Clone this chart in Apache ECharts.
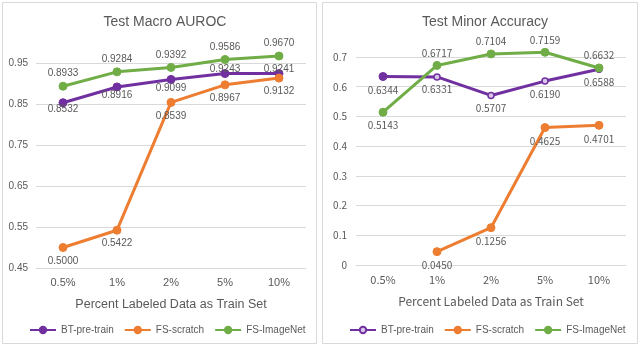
<!DOCTYPE html>
<html><head><meta charset="utf-8">
<script src="https://cdn.jsdelivr.net/npm/echarts@6/dist/echarts.min.js"></script>
<style>html,body{margin:0;padding:0;background:#fff}#c{width:640px;height:346px}</style>
</head><body><div id="c"></div>
<script>
// ---- data ----
const categories = ['0.5%', '1%', '2%', '5%', '10%'];
const seriesNames = ['BT-pre-train', 'FS-scratch', 'FS-ImageNet'];
const aurocBT = [0.8532, 0.8916, 0.9099, 0.9243, 0.9241];
const aurocScratch = [0.5000, 0.5422, 0.8539, 0.8967, 0.9132];
const aurocImageNet = [0.8933, 0.9284, 0.9392, 0.9586, 0.9670];
const accBT = [0.6344, 0.6331, 0.5707, 0.6190, 0.6588];
const accScratch = [null, 0.0450, 0.1256, 0.4625, 0.4701];
const accImageNet = [0.5143, 0.6717, 0.7104, 0.7159, 0.6632];
const aurocTicks = [0.45, 0.55, 0.65, 0.75, 0.85, 0.95];
const accTicks = [0, 0.1, 0.2, 0.3, 0.4, 0.5, 0.6, 0.7];
const titles = ['Test Macro AUROC', 'Test Minor Accuracy'];
const xTitle = 'Percent Labeled Data as Train Set';

// ---- styles / placement ----
const colors = ['#7030A0', '#ED7D31', '#70AD47'];
const txt = '#595959';
const grid = '#D9D9D9';
const fontL = 'Liberation Sans, Arial, sans-serif';
const fontR = 'Noto Sans CJK SC, Liberation Sans, sans-serif';
const ZW = '\u200b'; // distinguishes right-panel series names (invisible)
const place = {
  aBT: [['bottom', -3], ['bottom', -1], ['bottom', -1], ['top', -5], ['top', -5]],
  below: [['bottom', 4], ['bottom', 4], ['bottom', 4], ['bottom', 4], ['bottom', 4]],
  above: [['top', 3], ['top', 3], ['top', 3], ['top', 3], ['top', 3]],
  rGreen: [['bottom', 4], ['top', 3], ['top', 3], ['top', 3], ['top', 3]]
};

function mkSeries(name, vals, idx, gi, pl, font, sizes, fills) {
  return {
    name: name, type: 'line', xAxisIndex: gi, yAxisIndex: gi,
    symbol: 'circle', z: idx === 2 ? 4 : 3,
    lineStyle: { color: colors[idx], width: 3 },
    itemStyle: sizes ? { color: fills[1], borderColor: colors[idx], borderWidth: 1.5 }
                     : { color: colors[idx], borderColor: colors[idx], borderWidth: 1 },
    symbolSize: sizes ? sizes[1] : 8,
    connectNulls: false,
    data: vals.map((v, i) => {
      if (v == null) return null;
      const o = {
        value: v,
        label: { show: true, position: pl[i][0], distance: pl[i][1],
          formatter: (p) => p.value.toFixed(4), color: txt, fontSize: 10, fontFamily: font }
      };
      if (sizes) {
        o.symbolSize = sizes[i];
        o.itemStyle = { color: fills[i], borderColor: colors[idx], borderWidth: sizes[i] > 6 ? 1 : 1.5 };
      }
      return o;
    }),
    emphasis: { disabled: true }, animation: false
  };
}

const btSizes = [8, 6, 6, 6, 6];
const btFills = ['#7030A0', '#D9C6EA', '#D9C6EA', '#D9C6EA', '#D9C6EA'];

function xAx(gi, font, nameSize) {
  return {
    type: 'category', gridIndex: gi, data: categories, boundaryGap: true,
    axisLine: { show: true, lineStyle: { color: grid, width: 1 } },
    axisTick: { show: false },
    axisLabel: { color: txt, fontSize: 11, fontFamily: font, margin: 9 },
    name: xTitle, nameLocation: 'middle', nameGap: 30,
    nameTextStyle: { color: txt, fontSize: nameSize, fontFamily: font }
  };
}
function yAx(gi, min, max, ticks, font, margin) {
  return {
    type: 'value', gridIndex: gi, min: min, max: max,
    axisLine: { show: false },
    axisTick: { show: false, customValues: ticks },
    axisLabel: { color: txt, fontSize: 10, fontFamily: font, customValues: ticks, margin: margin },
    splitLine: { show: true, lineStyle: { color: grid, width: 1 } }
  };
}

const chart = echarts.init(document.getElementById('c'), null, { renderer: 'canvas' });
chart.setOption({
  animation: false,
  backgroundColor: '#fff',
  color: colors,
  title: [
    { text: titles[0], left: 160, textAlign: 'center', top: 10, textStyle: { color: txt, fontSize: 14, fontWeight: 'normal', fontFamily: fontL } },
    { text: titles[1], left: 480, textAlign: 'center', top: 10, textStyle: { color: txt, fontSize: 14, fontWeight: 'normal', fontFamily: fontL } }
  ],
  graphic: [
    { type: 'rect', shape: { x: 2.5, y: 2.5, width: 314, height: 341 }, style: { fill: 'none', stroke: '#D9D9D9', lineWidth: 1 }, silent: true },
    { type: 'rect', shape: { x: 322.5, y: 2.5, width: 315, height: 341 }, style: { fill: 'none', stroke: '#D9D9D9', lineWidth: 1 }, silent: true }
  ],
  grid: [
    { left: 36, width: 270, top: 42.5, height: 225.5, outerBoundsMode: 'none', containLabel: false },
    { left: 356, width: 270, top: 27.3, height: 237.7, outerBoundsMode: 'none', containLabel: false }
  ],
  legend: [
    { data: seriesNames, left: 29, top: 325, padding: 0, itemWidth: 26, itemHeight: 8, itemGap: 10,
      textStyle: { color: txt, fontSize: 10, fontFamily: fontL }, selectedMode: false },
    { data: seriesNames.map(n => n + ZW), left: 349, top: 325, padding: 0, itemWidth: 26, itemHeight: 8, itemGap: 10,
      textStyle: { color: txt, fontSize: 10, fontFamily: fontL }, selectedMode: false }
  ],
  xAxis: [xAx(0, fontL, 12.5), xAx(1, fontR, 12)],
  yAxis: [yAx(0, 0.45, 1.0, aurocTicks, fontL, 8), yAx(1, 0, 0.8, accTicks, fontR, 9)],
  series: [
    mkSeries(seriesNames[0], aurocBT, 0, 0, place.aBT, fontL),
    mkSeries(seriesNames[1], aurocScratch, 1, 0, place.below, fontL),
    mkSeries(seriesNames[2], aurocImageNet, 2, 0, place.above, fontL),
    mkSeries(seriesNames[0] + ZW, accBT, 0, 1, place.below, fontR, btSizes, btFills),
    mkSeries(seriesNames[1] + ZW, accScratch, 1, 1, place.below, fontR),
    mkSeries(seriesNames[2] + ZW, accImageNet, 2, 1, place.rGreen, fontR)
  ]
});
</script>
</body></html>
